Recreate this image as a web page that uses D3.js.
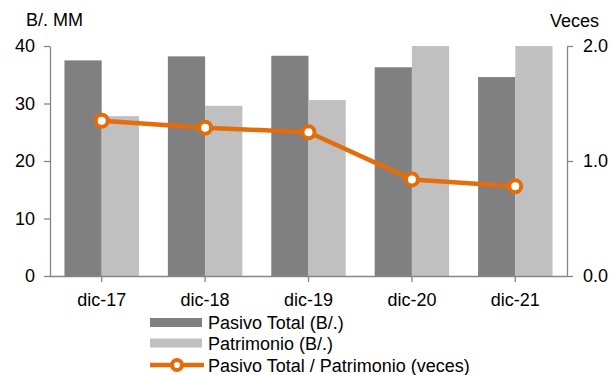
<!DOCTYPE html>
<html>
<head>
<meta charset="utf-8">
<script src="https://cdn.jsdelivr.net/npm/d3@7"></script>
<style>
  html, body { margin: 0; padding: 0; background: #fff; }
  svg { display: block; font-family: "Liberation Sans", Arial, sans-serif; }
</style>
</head>
<body>
<svg id="chart" width="610" height="375"></svg>
<script>
// Categories and series (B/. millones; ratio in veces)
const categories = ["dic-17", "dic-18", "dic-19", "dic-20", "dic-21"];
const pasivoTotal = [37.5, 38.2, 38.3, 36.3, 34.6];
const patrimonio = [27.8, 29.6, 30.6, 43.2, 44.1];
const ratioVeces = [1.35, 1.29, 1.25, 0.84, 0.78];
const leftTicks = [0, 10, 20, 30, 40];
const rightTicks = [0, 1, 2];
const seriesNames = ["Pasivo Total (B/.)", "Patrimonio (B/.)", "Pasivo Total / Patrimonio (veces)"];

const colDark = "#808080", colLight = "#c0c0c0", colLine = "#e46c0a", colAxis = "#868686";
const fontSize = 18;

const svg = d3.select("#chart");
const plot = { left: 50, right: 567, top: 46, bottom: 276 };

const x = d3.scaleBand().domain(categories).range([plot.left, plot.right])
  .paddingInner(0.28).paddingOuter(0.14);
const x1 = d3.scaleBand().domain(["pasivo", "patrimonio"]).range([0, x.bandwidth()]);
const y = d3.scaleLinear().domain([0, 40]).range([plot.bottom, plot.top]).clamp(true);
const y2 = d3.scaleLinear().domain([0, 2]).range([plot.bottom, plot.top]);
const xc = c => x(c) + x.bandwidth() / 2;

// Bars
const rows = categories.map((c, i) => ({ c, pasivo: pasivoTotal[i], patrimonio: patrimonio[i], r: ratioVeces[i] }));
const g = svg.append("g");
g.selectAll("rect.p").data(rows).join("rect")
  .attr("x", d => x(d.c) + x1("pasivo")).attr("width", x1.bandwidth())
  .attr("y", d => y(d.pasivo)).attr("height", d => y(0) - y(d.pasivo))
  .attr("fill", colDark);
g.selectAll("rect.q").data(rows).join("rect")
  .attr("x", d => x(d.c) + x1("patrimonio")).attr("width", x1.bandwidth())
  .attr("y", d => y(d.patrimonio)).attr("height", d => y(0) - y(d.patrimonio))
  .attr("fill", colLight);

// Axes
function styleAxis(sel) {
  sel.select(".domain").attr("stroke", colAxis).attr("stroke-width", 1.3);
  sel.selectAll(".tick line").attr("stroke", colAxis).attr("stroke-width", 1.3);
  sel.selectAll("text").attr("fill", "#000").attr("font-size", fontSize)
    .attr("font-family", "Liberation Sans, Arial, sans-serif");
}
const axL = svg.append("g").attr("transform", `translate(${plot.left},0)`)
  .call(d3.axisLeft(y).tickValues(leftTicks).tickSize(6).tickSizeOuter(0).tickPadding(9));
styleAxis(axL);
const axR = svg.append("g").attr("transform", `translate(${plot.right},0)`)
  .call(d3.axisRight(y2).tickValues(rightTicks).tickFormat(d3.format(".1f")).tickSize(6).tickSizeOuter(0).tickPadding(10));
styleAxis(axR);
const axB = svg.append("g").attr("transform", `translate(0,${plot.bottom})`)
  .call(d3.axisBottom(x).tickSize(6).tickSizeOuter(0).tickPadding(11));
styleAxis(axB);
axB.select(".domain").attr("d", `M${plot.left},0.5H${plot.right}`);

// Ratio line
const line = d3.line().x(d => xc(d.c)).y(d => y2(d.r));
svg.append("path").datum(rows).attr("d", line)
  .attr("fill", "none").attr("stroke", colLine).attr("stroke-width", 4.5).attr("stroke-linejoin", "round");
svg.selectAll("circle.m").data(rows).join("circle")
  .attr("cx", d => xc(d.c)).attr("cy", d => y2(d.r)).attr("r", 6)
  .attr("fill", "#fff").attr("stroke", colLine).attr("stroke-width", 4);

// Axis titles
svg.append("text").attr("x", 26).attr("y", 25.5).attr("font-size", fontSize).text("B/. MM");
svg.append("text").attr("x", 550).attr("y", 27).attr("font-size", fontSize).text("Veces");

// Legend
const lg = svg.append("g");
const lx0 = 150, lx1 = 202, tx = 208;
const rowY = [322.5, 343, 365];
lg.append("rect").attr("x", lx0).attr("y", rowY[0] - 4.5).attr("width", lx1 - lx0).attr("height", 9).attr("fill", colDark);
lg.append("rect").attr("x", lx0).attr("y", rowY[1] - 4.5).attr("width", lx1 - lx0).attr("height", 9).attr("fill", colLight);
lg.append("line").attr("x1", lx0).attr("x2", lx1 + 2).attr("y1", rowY[2]).attr("y2", rowY[2])
  .attr("stroke", colLine).attr("stroke-width", 4.5);
lg.append("circle").attr("cx", (lx0 + lx1 + 2) / 2).attr("cy", rowY[2]).attr("r", 5)
  .attr("fill", "#fff").attr("stroke", colLine).attr("stroke-width", 4);
seriesNames.forEach((s, i) => {
  lg.append("text").attr("x", tx).attr("y", rowY[i] + 6.5).attr("font-size", fontSize).text(s);
});
</script>
</body>
</html>
